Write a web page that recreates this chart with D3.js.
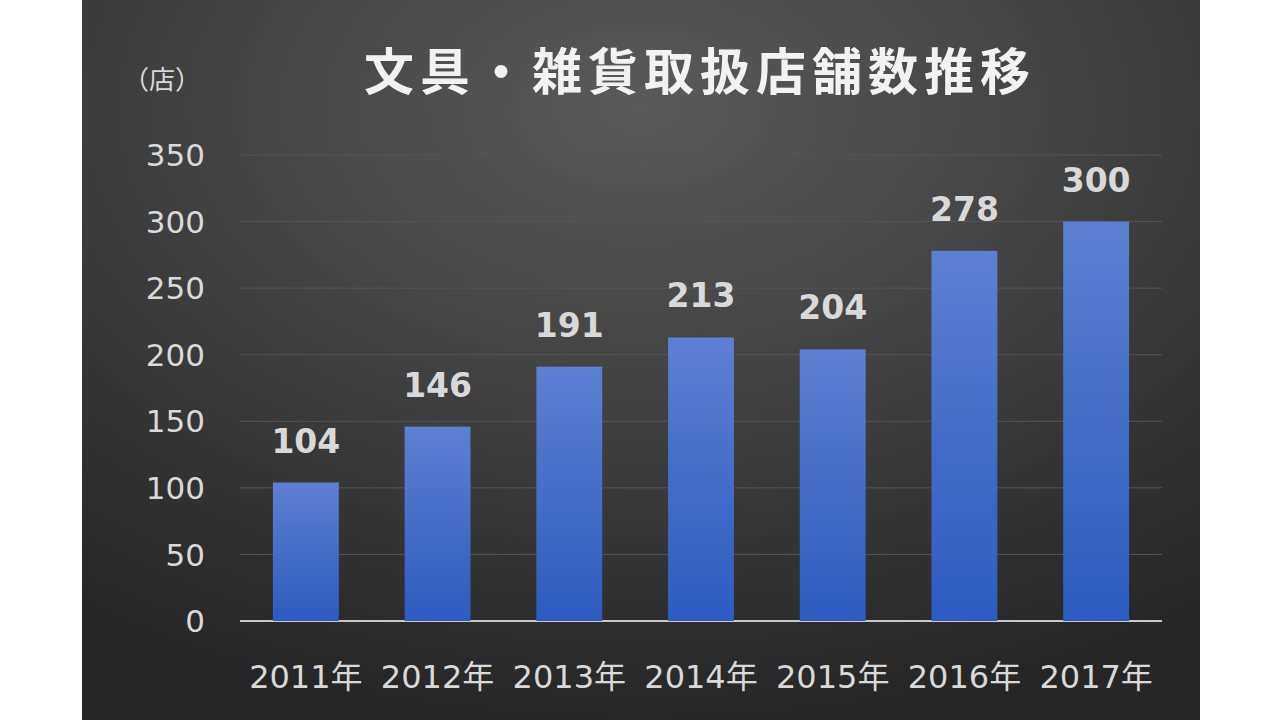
<!DOCTYPE html><html><head><meta charset="utf-8">
<script src="https://cdn.jsdelivr.net/npm/d3@7"></script>
<style>body{margin:0;background:#fff}svg{display:block}</style></head><body>
<svg id="c" width="1280" height="720"></svg>
<script>
const categories=["2011年","2012年","2013年","2014年","2015年","2016年","2017年"];
const values=[104,146,191,213,204,278,300];
const yTicks=[0,50,100,150,200,250,300,350];
const title="文具・雑貨取扱店舗数推移";
const unit="（店）";
const svg=d3.select("#c");
const defs=svg.append("defs");
const rg=defs.append("radialGradient").attr("id","bg").attr("cx","50%").attr("cy","15%").attr("r","85%");
rg.append("stop").attr("offset","0%").attr("stop-color","#5a5a5a");
rg.append("stop").attr("offset","100%").attr("stop-color","#262626");
const lg=defs.append("linearGradient").attr("id","bar").attr("x1",0).attr("x2",0).attr("y1",0).attr("y2",1);
lg.append("stop").attr("offset","0%").attr("stop-color","#5d80d2");
lg.append("stop").attr("offset","100%").attr("stop-color","#2d5bc0");
svg.append("rect").attr("x",82).attr("y",0).attr("width",1118).attr("height",720).attr("fill","url(#bg)");
const font="'DejaVu Sans','Noto Sans CJK JP',sans-serif";
const cjk="'Noto Sans CJK JP',sans-serif";
const x=d3.scaleBand().domain(categories).range([240,1162]).paddingInner(0.5).paddingOuter(0.25);
const y=d3.scaleLinear().domain([0,350]).range([621,155]);
svg.append("g").selectAll("line").data(yTicks).join("line")
 .attr("x1",240).attr("x2",1162).attr("y1",d=>y(d)).attr("y2",d=>y(d))
 .attr("stroke",d=>d===0?"#c8c8c8":"#555").attr("stroke-width",d=>d===0?2:1);
svg.append("g").selectAll("text").data(yTicks).join("text")
 .attr("x",205).attr("y",d=>y(d)).attr("dy","0.36em").attr("text-anchor","end")
 .attr("fill","#d9d9d9").attr("font-family",font).attr("font-size",31).text(d=>d);
svg.append("g").selectAll("rect").data(values).join("rect")
 .attr("x",(d,i)=>x(categories[i])).attr("width",x.bandwidth())
 .attr("y",d=>y(d)).attr("height",d=>y(0)-y(d)).attr("fill","url(#bar)");
svg.append("g").selectAll("text").data(values).join("text")
 .attr("x",(d,i)=>x(categories[i])+x.bandwidth()/2).attr("y",d=>y(d)-30)
 .attr("text-anchor","middle").attr("fill","#d9d9d9").attr("font-family",font)
 .attr("font-weight","bold").attr("font-size",33).text(d=>d);
svg.append("g").selectAll("text").data(categories).join("text")
 .attr("x",d=>x(d)+x.bandwidth()/2).attr("y",688).attr("text-anchor","middle")
 .attr("fill","#d9d9d9").attr("font-family",font).attr("font-size",32).text(d=>d);
svg.append("text").attr("x",162).attr("y",89).attr("text-anchor","middle").attr("fill","#d9d9d9")
 .attr("font-family",cjk).attr("font-size",26).text(unit);
svg.append("text").attr("x",700).attr("y",90).attr("text-anchor","middle").attr("fill","#f2f2f2")
 .attr("font-family",cjk).attr("font-weight","bold").attr("font-size",50).attr("letter-spacing",6).text(title);
</script></body></html>
